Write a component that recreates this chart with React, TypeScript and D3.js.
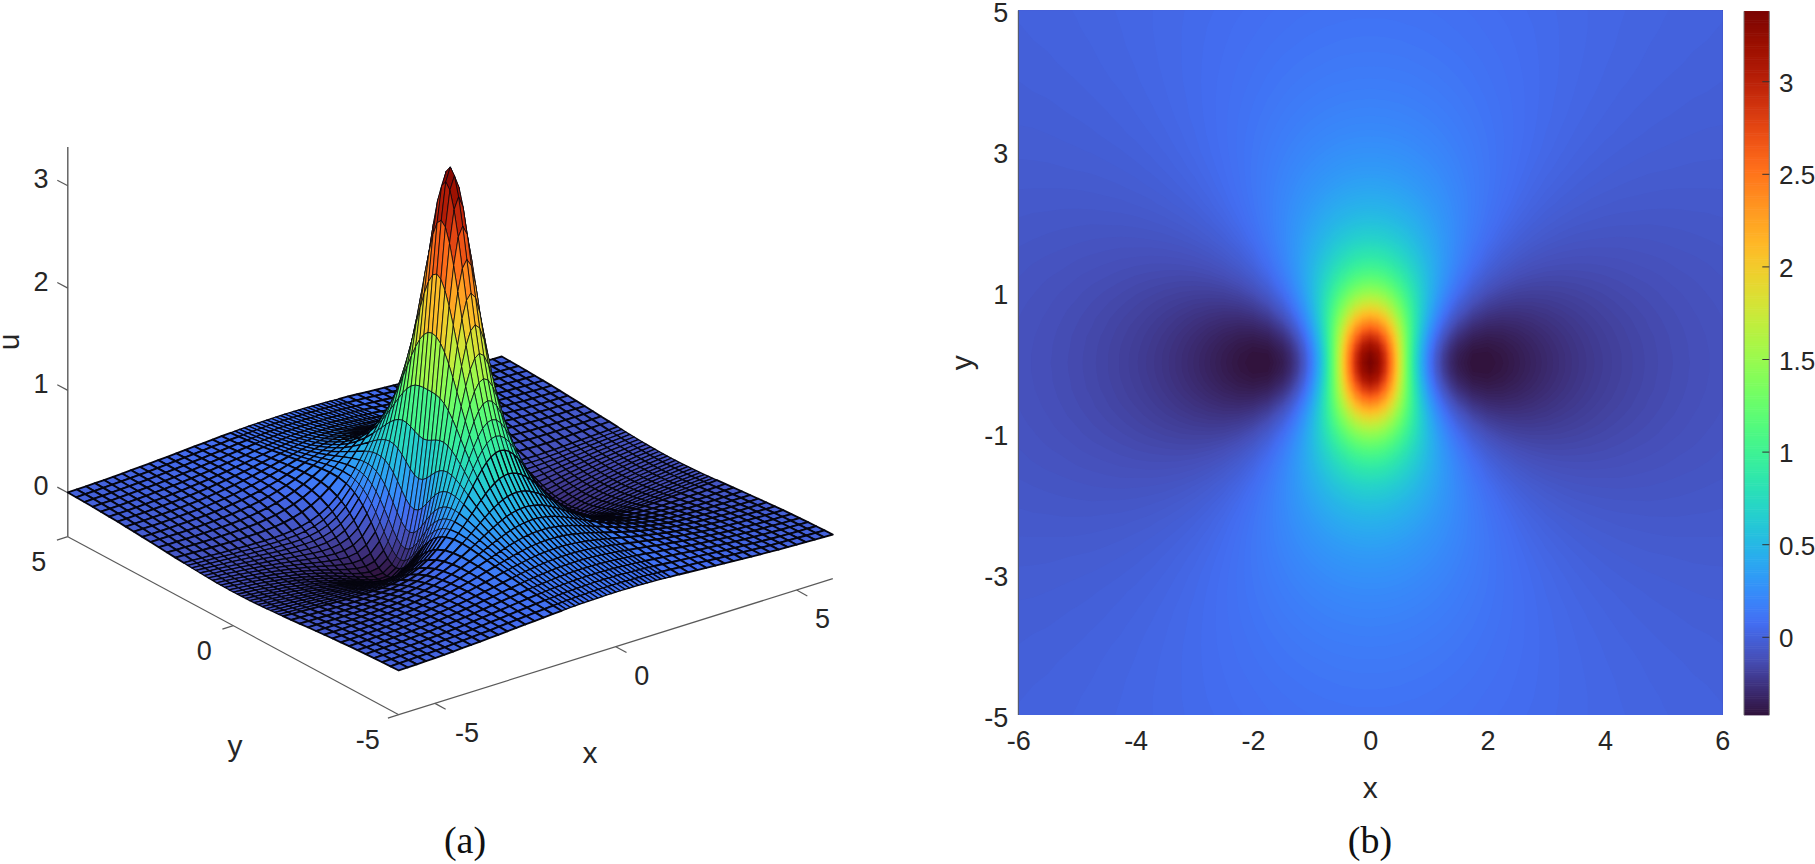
import React, { useEffect, useRef } from 'react';
import * as d3 from 'd3';

// Grid positions (one quadrant, the plot is mirror symmetric)
const xGrid = [0, 0.125, 0.25, 0.375, 0.5, 0.625, 0.75, 0.875, 1, 1.125, 1.25, 1.375, 1.5, 1.75, 2, 2.25, 2.5, 2.75, 3, 3.25, 3.5, 3.75, 4, 4.25, 4.5, 4.75, 5, 5.25, 5.5, 5.75, 6];
const yGrid = [0, 0.125, 0.25, 0.375, 0.5, 0.625, 0.75, 0.875, 1, 1.125, 1.25, 1.375, 1.5, 1.75, 2, 2.25, 2.5, 2.75, 3, 3.25, 3.5, 3.75, 4, 4.25, 4.5, 4.75, 5];

// u values, one row per yGrid entry, one column per xGrid entry (estimated)
const uQuadrant = [
  [3.39, 3.258, 2.895, 2.384, 1.819, 1.28, 0.814, 0.438, 0.152, -0.057, -0.203, -0.301, -0.364, -0.418, -0.42, -0.398, -0.367, -0.334, -0.302, -0.272, -0.245, -0.222, -0.201, -0.182, -0.166, -0.152, -0.139, -0.128, -0.118, -0.109, -0.101],
  [3.325, 3.198, 2.849, 2.354, 1.806, 1.28, 0.822, 0.452, 0.167, -0.041, -0.188, -0.287, -0.351, -0.409, -0.413, -0.393, -0.363, -0.331, -0.3, -0.271, -0.244, -0.221, -0.2, -0.182, -0.166, -0.151, -0.139, -0.127, -0.117, -0.109, -0.101],
  [3.14, 3.027, 2.713, 2.266, 1.763, 1.275, 0.844, 0.489, 0.212, 0.005, -0.143, -0.246, -0.314, -0.38, -0.392, -0.377, -0.352, -0.322, -0.293, -0.265, -0.24, -0.217, -0.197, -0.18, -0.164, -0.15, -0.137, -0.126, -0.117, -0.108, -0.1],
  [2.876, 2.781, 2.515, 2.132, 1.695, 1.261, 0.868, 0.538, 0.274, 0.071, -0.079, -0.186, -0.259, -0.337, -0.359, -0.353, -0.333, -0.308, -0.282, -0.257, -0.233, -0.212, -0.193, -0.176, -0.161, -0.148, -0.136, -0.125, -0.115, -0.107, -0.099],
  [2.572, 2.496, 2.282, 1.968, 1.602, 1.231, 0.885, 0.586, 0.34, 0.146, -0.003, -0.113, -0.192, -0.283, -0.317, -0.32, -0.308, -0.289, -0.267, -0.245, -0.224, -0.205, -0.187, -0.172, -0.157, -0.144, -0.133, -0.123, -0.113, -0.105, -0.098],
  [2.265, 2.206, 2.038, 1.789, 1.492, 1.183, 0.888, 0.624, 0.4, 0.218, 0.073, -0.037, -0.12, -0.222, -0.269, -0.283, -0.279, -0.266, -0.25, -0.232, -0.214, -0.196, -0.18, -0.166, -0.153, -0.141, -0.13, -0.12, -0.111, -0.103, -0.096],
  [1.976, 1.931, 1.802, 1.608, 1.372, 1.121, 0.874, 0.647, 0.448, 0.28, 0.144, 0.035, -0.049, -0.161, -0.218, -0.242, -0.247, -0.241, -0.23, -0.216, -0.201, -0.186, -0.172, -0.159, -0.147, -0.136, -0.126, -0.117, -0.108, -0.101, -0.094],
  [1.718, 1.684, 1.586, 1.436, 1.251, 1.049, 0.845, 0.653, 0.48, 0.329, 0.202, 0.098, 0.015, -0.101, -0.167, -0.2, -0.213, -0.214, -0.208, -0.198, -0.187, -0.175, -0.163, -0.151, -0.141, -0.131, -0.121, -0.113, -0.105, -0.098, -0.092],
  [1.493, 1.467, 1.392, 1.277, 1.132, 0.971, 0.806, 0.645, 0.496, 0.363, 0.248, 0.151, 0.071, -0.046, -0.118, -0.159, -0.179, -0.186, -0.185, -0.18, -0.172, -0.162, -0.153, -0.143, -0.134, -0.125, -0.117, -0.109, -0.102, -0.095, -0.089],
  [1.3, 1.28, 1.223, 1.134, 1.021, 0.893, 0.759, 0.626, 0.5, 0.384, 0.282, 0.192, 0.117, 0.002, -0.074, -0.12, -0.146, -0.158, -0.162, -0.161, -0.156, -0.15, -0.142, -0.134, -0.126, -0.119, -0.111, -0.104, -0.098, -0.092, -0.086],
  [1.135, 1.12, 1.077, 1.008, 0.919, 0.818, 0.709, 0.6, 0.493, 0.394, 0.303, 0.223, 0.153, 0.043, -0.034, -0.083, -0.114, -0.131, -0.14, -0.142, -0.14, -0.136, -0.131, -0.125, -0.118, -0.112, -0.106, -0.099, -0.094, -0.088, -0.083],
  [0.996, 0.985, 0.951, 0.897, 0.828, 0.747, 0.659, 0.569, 0.48, 0.394, 0.315, 0.244, 0.18, 0.076, 0.001, -0.051, -0.085, -0.106, -0.118, -0.123, -0.124, -0.123, -0.12, -0.115, -0.11, -0.105, -0.1, -0.094, -0.089, -0.085, -0.08],
  [0.878, 0.869, 0.843, 0.801, 0.746, 0.681, 0.61, 0.535, 0.461, 0.388, 0.32, 0.257, 0.199, 0.103, 0.03, -0.022, -0.058, -0.082, -0.097, -0.105, -0.109, -0.11, -0.108, -0.106, -0.102, -0.098, -0.094, -0.089, -0.085, -0.081, -0.076],
  [0.693, 0.687, 0.671, 0.644, 0.609, 0.567, 0.519, 0.468, 0.416, 0.364, 0.313, 0.264, 0.219, 0.139, 0.074, 0.024, -0.013, -0.04, -0.059, -0.072, -0.08, -0.084, -0.086, -0.087, -0.086, -0.084, -0.081, -0.078, -0.075, -0.072, -0.069],
  [0.557, 0.553, 0.543, 0.525, 0.502, 0.474, 0.442, 0.406, 0.369, 0.332, 0.294, 0.257, 0.222, 0.157, 0.102, 0.057, 0.021, -0.007, -0.028, -0.043, -0.054, -0.061, -0.066, -0.068, -0.069, -0.07, -0.069, -0.068, -0.066, -0.064, -0.062],
  [0.456, 0.453, 0.446, 0.435, 0.419, 0.399, 0.377, 0.352, 0.326, 0.298, 0.27, 0.242, 0.215, 0.163, 0.117, 0.078, 0.045, 0.018, -0.003, -0.019, -0.031, -0.041, -0.047, -0.052, -0.054, -0.056, -0.057, -0.057, -0.056, -0.056, -0.054],
  [0.379, 0.377, 0.372, 0.364, 0.353, 0.339, 0.323, 0.305, 0.286, 0.266, 0.245, 0.224, 0.203, 0.162, 0.124, 0.09, 0.061, 0.036, 0.016, 0, -0.013, -0.023, -0.031, -0.037, -0.041, -0.044, -0.046, -0.047, -0.047, -0.047, -0.047],
  [0.319, 0.318, 0.315, 0.309, 0.301, 0.291, 0.279, 0.266, 0.252, 0.237, 0.221, 0.205, 0.188, 0.156, 0.125, 0.096, 0.071, 0.049, 0.03, 0.015, 0.002, -0.009, -0.017, -0.024, -0.029, -0.033, -0.035, -0.037, -0.039, -0.04, -0.04],
  [0.272, 0.272, 0.269, 0.265, 0.259, 0.252, 0.243, 0.233, 0.223, 0.211, 0.199, 0.186, 0.173, 0.148, 0.122, 0.099, 0.077, 0.058, 0.041, 0.026, 0.013, 0.003, -0.006, -0.013, -0.018, -0.023, -0.026, -0.029, -0.031, -0.032, -0.033],
  [0.235, 0.234, 0.232, 0.229, 0.225, 0.219, 0.213, 0.205, 0.197, 0.188, 0.179, 0.169, 0.159, 0.138, 0.118, 0.098, 0.08, 0.063, 0.047, 0.034, 0.022, 0.012, 0.004, -0.003, -0.009, -0.014, -0.018, -0.021, -0.024, -0.026, -0.027],
  [0.205, 0.204, 0.203, 0.2, 0.197, 0.193, 0.188, 0.182, 0.176, 0.169, 0.161, 0.154, 0.146, 0.129, 0.112, 0.096, 0.08, 0.065, 0.052, 0.04, 0.029, 0.019, 0.011, 0.004, -0.002, -0.007, -0.011, -0.014, -0.017, -0.02, -0.021],
  [0.18, 0.179, 0.178, 0.176, 0.174, 0.17, 0.167, 0.162, 0.157, 0.152, 0.146, 0.14, 0.133, 0.12, 0.106, 0.092, 0.079, 0.066, 0.054, 0.043, 0.034, 0.025, 0.017, 0.01, 0.004, -0.001, -0.005, -0.009, -0.012, -0.014, -0.016],
  [0.159, 0.158, 0.158, 0.156, 0.154, 0.152, 0.149, 0.145, 0.141, 0.137, 0.132, 0.127, 0.122, 0.111, 0.099, 0.088, 0.077, 0.066, 0.055, 0.046, 0.037, 0.029, 0.022, 0.015, 0.01, 0.005, 0, -0.003, -0.007, -0.009, -0.012],
  [0.141, 0.141, 0.141, 0.139, 0.138, 0.136, 0.133, 0.13, 0.127, 0.124, 0.12, 0.116, 0.112, 0.103, 0.093, 0.084, 0.074, 0.065, 0.055, 0.047, 0.039, 0.032, 0.025, 0.019, 0.014, 0.009, 0.005, 0.001, -0.002, -0.005, -0.007],
  [0.127, 0.127, 0.126, 0.125, 0.124, 0.122, 0.12, 0.118, 0.115, 0.112, 0.109, 0.106, 0.103, 0.095, 0.087, 0.079, 0.071, 0.063, 0.055, 0.047, 0.04, 0.034, 0.028, 0.022, 0.017, 0.012, 0.008, 0.005, 0.001, -0.001, -0.004],
  [0.114, 0.114, 0.114, 0.113, 0.112, 0.11, 0.109, 0.107, 0.105, 0.103, 0.1, 0.097, 0.094, 0.088, 0.081, 0.075, 0.068, 0.061, 0.054, 0.047, 0.041, 0.035, 0.029, 0.024, 0.019, 0.015, 0.011, 0.008, 0.004, 0.002, -0.001],
  [0.103, 0.103, 0.103, 0.102, 0.101, 0.1, 0.099, 0.097, 0.096, 0.094, 0.092, 0.089, 0.087, 0.082, 0.076, 0.07, 0.064, 0.058, 0.052, 0.046, 0.041, 0.035, 0.03, 0.026, 0.021, 0.017, 0.013, 0.01, 0.007, 0.004, 0.002],
];

// Tick labels
const surfaceXTicks = [-5, 0, 5];
const surfaceYTicks = [5, 0, -5];
const surfaceZTicks = [0, 1, 2, 3];
const heatXTicks = [-6, -4, -2, 0, 2, 4, 6];
const heatYTicks = [-5, -3, -1, 1, 3, 5];
const colorbarTicks = [0, 0.5, 1, 1.5, 2, 2.5, 3];

const uMin = -0.42;
const uMax = 3.38;
const textColor = '#262626';
const axisColor = '#5a5a5a';
const sans = '"Liberation Sans", Arial, sans-serif';

const mirror = <T,>(a: T[]): T[] => [...a.slice(1).reverse(), ...a];
const signedMirror = (a: number[]) => [...a.slice(1).reverse().map((d) => -d), ...a];

const xs = signedMirror(xGrid);
const ys = signedMirror(yGrid);
const grid = mirror(uQuadrant.map((row) => mirror(row)));

// d3's turbo is too black at the low end and too bright at the top, MATLAB's is not
const lowEnd = d3.scaleLinear<string>()
  .domain([0, 0.04, 0.08, 0.13])
  .range(['#30123b', '#3d2f7a', '#464fb8', d3.interpolateTurbo(0.13)]);
const highEnd = d3.scaleLinear<string>()
  .domain([0.95, 1])
  .range([d3.interpolateTurbo(0.95), '#7a0403']);
const color = (v: number) => {
  const t = Math.max(0, Math.min(1, (v - uMin) / (uMax - uMin)));
  if (t < 0.13) return lowEnd(t);
  if (t > 0.95) return highEnd(t);
  return d3.interpolateTurbo(t);
};

export default function App() {
  const svgRef = useRef<SVGSVGElement | null>(null);

  useEffect(() => {
    if (!svgRef.current) return;
    const svg = d3.select(svgRef.current);
    svg.selectAll('*').remove();

    const addText = (parent: any, x: number, y: number, label: string, size = 27, anchor = 'middle') =>
      parent.append('text')
        .attr('x', x)
        .attr('y', y)
        .attr('dy', '0.35em')
        .attr('text-anchor', anchor)
        .attr('font-family', sans)
        .attr('font-size', size)
        .attr('fill', textColor)
        .text(label);

    // ---- (a) surface ----
    const left = svg.append('g');
    // each data axis adds a screen offset
    const xToH = d3.scaleLinear().domain([-6, 6]).range([-217, 217]);
    const xToV = d3.scaleLinear().domain([-6, 6]).range([68, -68]);
    const yToH = d3.scaleLinear().domain([-5, 5]).range([165.5, -165.5]);
    const yToV = d3.scaleLinear().domain([-5, 5]).range([89, -89]);
    const zToV = d3.scaleLinear().domain([0, 3]).range([513.7, 206.8]);
    const project = (x: number, y: number, z: number): [number, number] => [
      450.3 + xToH(x) + yToH(y),
      xToV(x) + yToV(y) + zToV(z),
    ];

    const axisLine = (a: [number, number], b: [number, number], w = 1.2) =>
      left.append('line')
        .attr('x1', a[0]).attr('y1', a[1]).attr('x2', b[0]).attr('y2', b[1])
        .attr('stroke', axisColor).attr('stroke-width', w);

    const zFloor = -0.43;
    axisLine(project(-6, 5, zFloor), project(-6, 5, 3.38), 1.4);
    axisLine(project(-6, 5, zFloor), project(-6, -5, zFloor));
    axisLine(project(-6, -5, zFloor), project(6, -5, zFloor));

    surfaceZTicks.forEach((t) => {
      const p = project(-6, 5, t);
      axisLine(p, [p[0] - 10.5, p[1] - 5.6]);
      addText(left, 41, p[1] - 7, String(t));
    });
    surfaceYTicks.forEach((t) => {
      const p = project(-6, t, zFloor);
      axisLine(p, [p[0] - 10.9, p[1] + 3.4]);
      addText(left, p[0] - (t < 0 ? 31 : 29), p[1] + 25, String(t));
    });
    surfaceXTicks.forEach((t) => {
      const p = project(t, -5, zFloor);
      axisLine(p, [p[0] + 10.7, p[1] + 5.9]);
      addText(left, p[0] + (t < 0 ? 32 : 26), p[1] + 29, String(t));
    });
    addText(left, 590, 752, 'x', 30);
    addText(left, 235, 745, 'y', 30);
    left.append('text')
      .attr('transform', 'translate(8,342) rotate(-90)')
      .attr('dy', '0.35em')
      .attr('text-anchor', 'middle')
      .attr('font-family', sans)
      .attr('font-size', 30)
      .attr('fill', textColor)
      .text('u');

    // quads, painted from the far corner (+x, +y) to the near one
    type Quad = { d: string; fill: string; width: number };
    const quads: Quad[] = [];
    for (let j = ys.length - 2; j >= 0; j--) {
      for (let i = xs.length - 2; i >= 0; i--) {
        const corners: [number, number, number][] = [
          [xs[i], ys[j], grid[j][i]],
          [xs[i + 1], ys[j], grid[j][i + 1]],
          [xs[i + 1], ys[j + 1], grid[j + 1][i + 1]],
          [xs[i], ys[j + 1], grid[j + 1][i]],
        ];
        const coarse = (xs[i + 1] - xs[i] > 0.2 ? 1 : 0) + (ys[j + 1] - ys[j] > 0.2 ? 1 : 0);
        quads.push({
          d: d3.line()(corners.map((c) => project(c[0], c[1], c[2]))) + 'Z',
          fill: color(d3.mean(corners, (c) => c[2]) as number),
          width: 0.75 + coarse * 0.55,
        });
      }
    }
    left.append('g')
      .selectAll('path')
      .data(quads)
      .join('path')
      .attr('d', (d) => d.d)
      .attr('fill', (d) => d.fill)
      .attr('stroke', '#05050f')
      .attr('stroke-width', (d) => d.width)
      .attr('stroke-linejoin', 'round');

    // ---- (b) map ----
    const right = svg.append('g');
    const xHeat = d3.scaleLinear().domain([-6, 6]).range([1018.3, 1722.3]);
    const yHeat = d3.scaleLinear().domain([-5, 5]).range([715, 10.5]);

    svg.append('defs').append('clipPath').attr('id', 'heat-clip')
      .append('rect')
      .attr('x', xHeat(-6)).attr('y', yHeat(5))
      .attr('width', xHeat(6) - xHeat(-6)).attr('height', yHeat(-5) - yHeat(5));

    const thresholds = d3.range(uMin, uMax, 0.012);
    const contours = d3.contours()
      .size([xs.length, ys.length])
      .thresholds(thresholds)(grid.flat());

    // d3.contours puts the samples at cell centres, the grid is not even so map it piecewise
    const colToX = d3.scaleLinear().domain(xs.map((_, i) => i + 0.5)).range(xs.map((d) => xHeat(d)));
    const rowToY = d3.scaleLinear().domain(ys.map((_, i) => i + 0.5)).range(ys.map((d) => yHeat(d)));
    const contourPath = d3.geoPath(d3.geoTransform({
      point(x: number, y: number) {
        (this as any).stream.point(colToX(x), rowToY(y));
      },
    }));

    const heat = right.append('g').attr('clip-path', 'url(#heat-clip)');
    heat.append('rect')
      .attr('x', xHeat(-6)).attr('y', yHeat(5))
      .attr('width', xHeat(6) - xHeat(-6)).attr('height', yHeat(-5) - yHeat(5))
      .attr('fill', color(uMin));
    heat.selectAll('path')
      .data(contours)
      .join('path')
      .attr('d', (d: any) => contourPath(d))
      .attr('fill', (d: any) => color(d.value + 0.006));

    right.append('line')
      .attr('x1', xHeat(-6)).attr('x2', xHeat(-6))
      .attr('y1', yHeat(5)).attr('y2', yHeat(-5))
      .attr('stroke', axisColor).attr('stroke-width', 1);

    const xAxisG = right.append('g')
      .attr('transform', `translate(0,${yHeat(-5)})`)
      .call(d3.axisBottom(xHeat).tickValues(heatXTicks).tickSize(0).tickPadding(16).tickFormat((d) => String(d)));
    const yAxisG = right.append('g')
      .attr('transform', `translate(${xHeat(-6)},0)`)
      .call(d3.axisLeft(yHeat).tickValues(heatYTicks).tickSize(0).tickPadding(10).tickFormat((d) => String(d)));
    [xAxisG, yAxisG].forEach((g) => {
      g.select('.domain').remove();
      g.selectAll('text').attr('font-family', sans).attr('font-size', 27).attr('fill', textColor);
    });
    yAxisG.selectAll('text').attr('dy', '0.42em');

    addText(right, xHeat(0), 787, 'x', 30);
    right.append('text')
      .attr('transform', `translate(961,${yHeat(0)}) rotate(-90)`)
      .attr('dy', '0.35em')
      .attr('text-anchor', 'middle')
      .attr('font-family', sans)
      .attr('font-size', 30)
      .attr('fill', textColor)
      .text('y');

    // colorbar
    const barX0 = 1744;
    const barX1 = 1769.3;
    const yBar = d3.scaleLinear().domain([0, 3]).range([637.3, 81.7]);
    const barSteps = d3.range(uMin, uMax, 0.01);
    right.append('g')
      .selectAll('rect')
      .data(barSteps)
      .join('rect')
      .attr('x', barX0)
      .attr('width', barX1 - barX0)
      .attr('y', (d) => yBar(d + 0.01) - 0.3)
      .attr('height', (d) => yBar(d) - yBar(d + 0.01) + 0.6)
      .attr('fill', (d) => color(d + 0.005));
    [barX0, barX1].forEach((x) => {
      right.append('line')
        .attr('x1', x).attr('x2', x)
        .attr('y1', yBar(uMax)).attr('y2', yBar(uMin))
        .attr('stroke', '#777').attr('stroke-width', 1);
    });
    colorbarTicks.forEach((t) => {
      right.append('line')
        .attr('x1', barX1 - 7).attr('x2', barX1)
        .attr('y1', yBar(t)).attr('y2', yBar(t))
        .attr('stroke', '#333').attr('stroke-width', 1);
      addText(right, 1779, yBar(t) + 1, String(t), 26, 'start');
    });

    // captions
    [['(a)', 465], ['(b)', 1370]].forEach(([label, x]) => {
      svg.append('text')
        .attr('x', x as number)
        .attr('y', 853)
        .attr('text-anchor', 'middle')
        .attr('font-family', '"Liberation Serif", serif')
        .attr('font-size', 38)
        .attr('fill', '#111')
        .text(label as string);
    });
  }, []);

  return <svg ref={svgRef} width={1815} height={864} style={{ position: 'absolute', left: 0, top: 0, background: '#fff' }} />;
}
